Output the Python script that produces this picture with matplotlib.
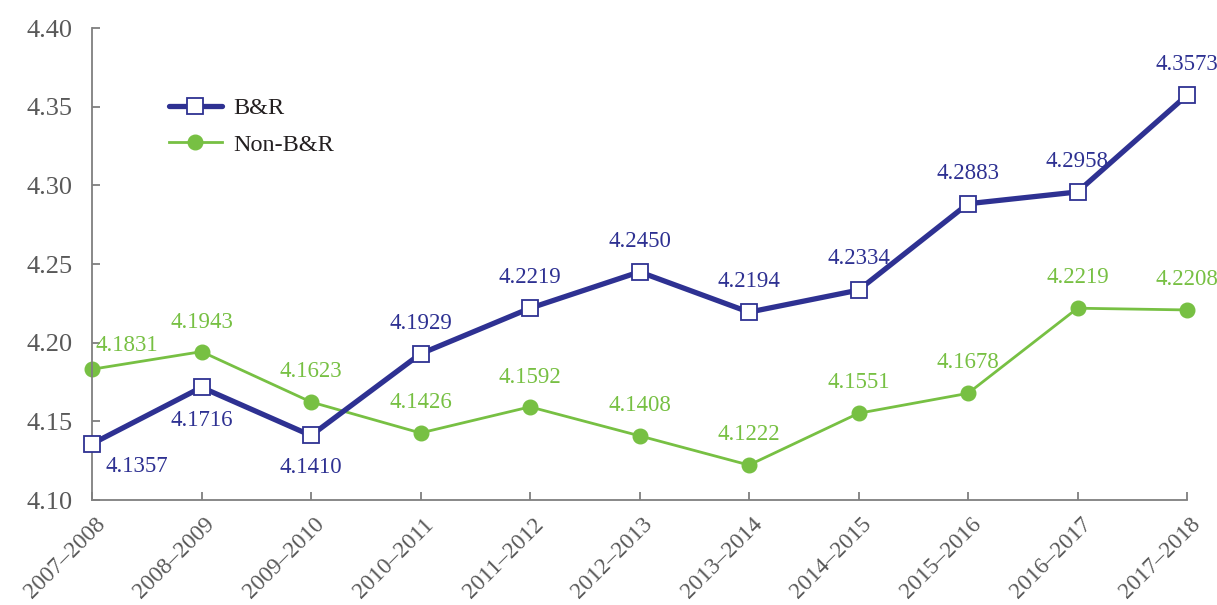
import matplotlib
matplotlib.use("Agg")
import matplotlib.pyplot as plt
from matplotlib.transforms import ScaledTranslation

periods = ["2007–2008", "2008–2009", "2009–2010", "2010–2011", "2011–2012",
           "2012–2013", "2013–2014", "2014–2015", "2015–2016", "2016–2017", "2017–2018"]
br = [4.1357, 4.1716, 4.1410, 4.1929, 4.2219, 4.2450, 4.2194, 4.2334, 4.2883, 4.2958, 4.3573]
nonbr = [4.1831, 4.1943, 4.1623, 4.1426, 4.1592, 4.1408, 4.1222, 4.1551, 4.1678, 4.2219, 4.2208]
yticks = [4.10, 4.15, 4.20, 4.25, 4.30, 4.35, 4.40]

plt.rcParams['font.family'] = ['Liberation Serif', 'DejaVu Serif']
navy = '#2E3192'
green = '#77C043'
gray = '#595959'

fig = plt.figure(figsize=(12.17, 6.05), dpi=100)
ax = fig.add_axes([92/1217, 105/605, (1187-92)/1217, (500-28)/605])
x = list(range(len(periods)))

ax.plot(x, br, color=navy, lw=3.8, marker='s', ms=12, mfc='white', mec=navy, mew=1.3,
        label='B&R', zorder=3, solid_capstyle='round', clip_on=False)
ax.plot(x, nonbr, color=green, lw=2.0, marker='o', ms=10.5, mfc=green, mec=green,
        label='Non-B&R', zorder=2, clip_on=False)

br_off = [(32, -16), (0, -24), (0, -23), (0, 22), (0, 22), (0, 22), (0, 22), (0, 23), (0, 22), (0, 22), (0, 22)]
nb_off = [(25, 17), (0, 21), (0, 22), (0, 22), (0, 21), (0, 22), (0, 22), (0, 22), (0, 22), (0, 22), (0, 22)]
for i, (v, o) in enumerate(zip(br, br_off)):
    ax.annotate(f"{v:.4f}", (i, v), xytext=o, textcoords='offset points',
                ha='center', va='center', color=navy, fontsize=16.5, annotation_clip=False)
for i, (v, o) in enumerate(zip(nonbr, nb_off)):
    ax.annotate(f"{v:.4f}", (i, v), xytext=o, textcoords='offset points',
                ha='center', va='center', color=green, fontsize=16.5, annotation_clip=False)

ax.set_xlim(0, 10)
ax.set_ylim(4.10, 4.40)
ax.set_yticks(yticks)
ax.set_yticklabels([f"{t:.2f}" for t in yticks])
ax.set_xticks(x)
ax.set_xticklabels(periods, rotation=45, ha='right', va='top', rotation_mode='anchor')

for s in ['top', 'right']:
    ax.spines[s].set_visible(False)
for s in ['left', 'bottom']:
    ax.spines[s].set_color('#7f7f7f')
    ax.spines[s].set_linewidth(1.3)
ax.tick_params(axis='both', direction='in', colors='#7f7f7f', labelcolor=gray,
               length=6, width=1.3)
ax.tick_params(axis='y', pad=14, labelsize=19)
ax.tick_params(axis='x', pad=10, labelsize=16.8)
for lab in ax.get_xticklabels():
    lab.set_transform(lab.get_transform() + ScaledTranslation(2/72, 0, fig.dpi_scale_trans))

leg = ax.legend(loc='upper left', bbox_to_anchor=(0.05, 0.9), frameon=False,
                fontsize=17.5, handlelength=2.2, labelspacing=0.6, handletextpad=0.45)
for t in leg.get_texts():
    t.set_color('#231f20')

fig.savefig('out.png', dpi=100)
